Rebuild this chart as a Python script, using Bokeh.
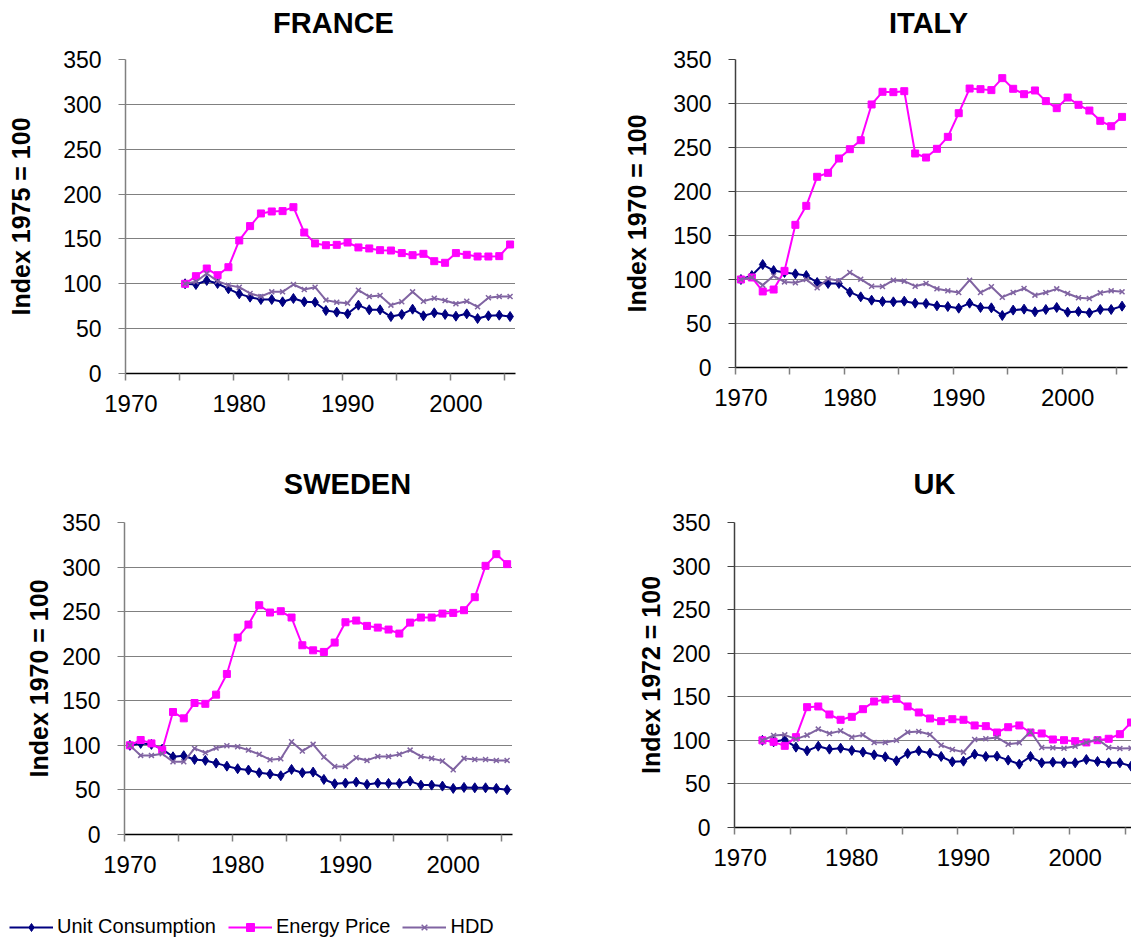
from bokeh.plotting import figure
from bokeh.models import Range1d, FixedTicker, Label, Legend, LegendItem
from bokeh.layouts import column, row
from bokeh.embed import file_html
from bokeh.resources import INLINE

FONT = "Liberation Sans"
UNIT_COLOR = "#000080"
PRICE_COLOR = "#FF00FF"
HDD_COLOR = "#8064A2"

series_names = ["Unit Consumption", "Energy Price", "HDD"]
tick_labels = [1970, 1980, 1990, 2000]
tick_marks = [1969.5, 1974.5, 1979.5, 1984.5, 1989.5, 1994.5, 1999.5, 2004.5]
y_ticks = [0, 50, 100, 150, 200, 250, 300, 350]

# FRANCE (index 1975 = 100)
fr_years = list(range(1975, 2006))
fr_unit = [100, 99.2, 103.7, 100.3, 94.4, 88.8, 85.1, 82.5, 82.5, 79.9, 83.6, 79.9, 79.5, 70.2, 68.4,
           66.5, 76.2, 71.0, 71.0, 63.5, 65.8, 71.7, 64.3, 67.6, 65.8, 63.9, 66.5, 61.3, 64.3, 65.0, 63.5]
fr_price = [100, 108.5, 117.0, 109.6, 118.5, 148.3, 164.3, 178.4, 180.6, 181.0, 185.4, 157.2, 145.0, 143.0, 143.4,
            146.0, 140.5, 139.4, 137.5, 137.1, 134.2, 131.9, 133.4, 125.2, 123.4, 134.2, 132.3, 130.4, 130.4, 130.8, 143.8]
fr_hdd = [100, 102.2, 111.5, 102.9, 98.5, 96.2, 89.2, 85.8, 91.0, 91.0, 99.2, 93.6, 96.2, 81.8, 79.5,
          78.4, 92.9, 85.8, 87.0, 76.2, 79.9, 91.0, 80.6, 84.0, 81.4, 77.7, 80.6, 74.3, 84.4, 85.8, 85.8]

# ITALY (index 1970 = 100)
it_years = list(range(1970, 2006))
it_unit = [100, 104.5, 117.0, 110.2, 108.0, 106.4, 104.5, 96.6, 95.5, 95.5, 85.6, 80.3, 76.5, 75.0, 74.6, 75.4,
           73.1, 72.7, 70.1, 69.3, 67.4, 73.1, 68.2, 67.8, 59.1, 65.2, 66.3, 63.3, 65.9, 68.2, 62.9, 63.6,
           62.1, 65.9, 65.9, 69.7]
it_price = [100, 102.3, 86.4, 88.6, 109.8, 162.1, 183.7, 216.7, 221.2, 237.5, 248.1, 258.3, 298.9, 313.3, 312.9,
            314.0, 243.2, 238.6, 248.5, 262.1, 289.0, 317.0, 316.3, 315.2, 328.8, 316.7, 310.6, 314.8, 302.7,
            294.7, 306.8, 298.5, 292.0, 280.3, 274.2, 284.8]
it_hdd = [100, 102.3, 93.6, 104.2, 97.3, 96.2, 100.0, 90.5, 100.8, 98.5, 108.0, 100.4, 92.4, 92.0, 99.2, 98.1,
          92.4, 95.5, 89.4, 87.1, 85.2, 99.2, 85.2, 91.7, 79.9, 85.2, 89.8, 82.2, 85.2, 89.4, 84.1, 79.2,
          78.4, 84.8, 87.1, 86.0]

# SWEDEN (index 1970 = 100)
se_years = list(range(1970, 2006))
se_unit = [100, 102.2, 101.1, 95.8, 87.2, 88.4, 84.2, 83.1, 80.1, 76.7, 73.8, 72.3, 69.3, 67.8, 65.9, 73.0,
           69.3, 70.0, 61.8, 56.9, 57.7, 58.8, 56.2, 57.7, 57.3, 57.3, 59.9, 55.4, 55.4, 54.3, 51.7, 52.8,
           52.4, 52.4, 51.7, 50.2]
se_price = [100, 106.0, 102.2, 94.7, 137.4, 130.3, 147.5, 146.6, 156.9, 180.1, 220.9, 235.5, 257.2, 249.0, 250.5,
            243.4, 212.3, 206.6, 204.8, 215.3, 238.1, 240.0, 234.0, 232.1, 229.9, 225.4, 237.7, 243.4, 243.4,
            247.8, 248.6, 251.6, 266.2, 301.4, 314.5, 303.3]
se_hdd = [100, 88.7, 88.7, 90.6, 81.6, 81.6, 96.6, 91.7, 97.0, 99.6, 98.5, 94.7, 89.9, 83.9, 85.0, 104.1,
          93.6, 101.1, 86.9, 76.4, 76.4, 86.1, 83.1, 87.6, 87.6, 89.9, 94.7, 87.6, 85.4, 82.4, 72.6, 85.4,
          84.2, 84.2, 83.1, 83.1]

# UK (index 1972 = 100)
uk_years = list(range(1972, 2006))
uk_unit = [100, 98.3, 100.6, 92.2, 88.0, 93.3, 89.9, 91.0, 88.4, 86.5, 83.4, 81.1, 76.5, 84.9, 88.0, 85.3,
           81.5, 75.4, 76.1, 84.2, 81.5, 81.9, 77.3, 72.7, 81.5, 74.2, 75.0, 74.2, 74.2, 78.0, 75.7, 74.2,
           74.2, 70.4]
uk_price = [100, 98.3, 93.7, 103.7, 138.1, 138.9, 129.7, 123.6, 127.0, 135.8, 144.6, 146.9, 147.7, 138.9, 132.0,
            125.1, 122.0, 124.3, 123.6, 117.1, 116.3, 109.0, 115.1, 117.1, 109.0, 107.9, 101.0, 100.2, 99.1,
            97.6, 100.2, 101.8, 107.1, 120.5]
uk_hdd = [100, 105.6, 106.3, 101.4, 106.0, 112.9, 107.9, 110.9, 103.7, 106.3, 97.6, 97.6, 100.2, 109.4, 110.2,
          106.7, 94.5, 89.5, 86.5, 101.0, 101.8, 103.3, 95.6, 97.2, 110.2, 91.8, 91.4, 91.0, 93.3, 97.6,
          101.4, 91.8, 90.7, 91.0]


def make_panel(ylabel, years, unit, price, hdd, bl, bt, br, bb, fw, fh, xend, ylab_standoff, yaxis_color):
    p = figure(frame_width=fw, frame_height=fh, output_backend="svg", toolbar_location=None, title=None,
               x_range=Range1d(1969.5, xend), y_range=Range1d(0, 350),
               min_border_left=bl, min_border_top=bt, min_border_right=br, min_border_bottom=bb)
    p.outline_line_color = None

    xa = p.xaxis[0]
    xa.ticker = FixedTicker(ticks=tick_labels, minor_ticks=tick_marks)
    xa.major_tick_out = 0
    xa.major_tick_in = 0
    xa.minor_tick_out = 7
    xa.minor_tick_in = 0
    xa.minor_tick_line_color = "#808080"
    xa.minor_tick_line_width = 1.5
    xa.axis_line_color = "black"
    xa.axis_line_width = 1.5
    xa.major_label_text_font = FONT
    xa.major_label_text_font_size = "24px"
    xa.major_label_text_color = "black"
    xa.major_label_standoff = 14

    ya = p.yaxis[0]
    ya.ticker = FixedTicker(ticks=y_ticks)
    ya.major_tick_out = 7
    ya.major_tick_in = 0
    ya.minor_tick_out = 0
    ya.minor_tick_in = 0
    ya.major_tick_line_color = yaxis_color
    ya.axis_line_color = yaxis_color
    ya.axis_line_width = 1.5
    ya.major_label_text_font = FONT
    ya.major_label_text_font_size = "23px"
    ya.major_label_text_color = "black"
    ya.major_label_standoff = 17
    ya.axis_label = ylabel
    ya.axis_label_text_font = FONT
    ya.axis_label_text_font_size = "25px"
    ya.axis_label_text_font_style = "bold"
    ya.axis_label_text_color = "black"
    ya.axis_label_standoff = ylab_standoff

    p.xgrid.visible = False
    p.ygrid.ticker = FixedTicker(ticks=y_ticks[1:])
    p.ygrid.grid_line_color = "black"
    p.ygrid.grid_line_dash = "1 1"
    p.ygrid.grid_line_width = 1

    p.line(years, unit, color=UNIT_COLOR, line_width=2)
    p.scatter(years, unit, marker="diamond", size=10, color=UNIT_COLOR)
    p.line(years, price, color=PRICE_COLOR, line_width=2)
    p.scatter(years, price, marker="square", size=7, color=PRICE_COLOR)
    p.line(years, hdd, color=HDD_COLOR, line_width=2)
    p.scatter(years, hdd, marker="x", size=7, color=HDD_COLOR, line_width=1.5)
    return p


def make_strip(width, height, titles):
    s = figure(width=width, height=height, output_backend="svg", toolbar_location=None, title=None,
               x_axis_location=None, y_axis_location=None, min_border=0,
               x_range=Range1d(0, 1), y_range=Range1d(0, 1))
    s.outline_line_color = None
    s.grid.visible = False
    for text, x, y in titles:
        s.add_layout(Label(x=x, y=y, x_units="screen", y_units="screen", text=text,
                           text_font=FONT, text_font_size="29px", text_font_style="bold",
                           text_color="black", text_align="center", text_baseline="middle"))
    return s


top_strip = make_strip(1131, 48, [("FRANCE", 333, 26), ("ITALY", 928, 26)])
fr = make_panel("Index 1975 = 100", fr_years, fr_unit, fr_price, fr_hdd,
                125, 10, 58, 86, 390, 314, 2005.5, 25, "#808080")
it = make_panel("Index 1970 = 100", it_years, it_unit, it_price, it_hdd,
                162, 11, 4, 91, 392, 308, 2005.5, 19, "#404040")
bottom_strip = make_strip(1131, 40, [("SWEDEN", 347, 15), ("UK", 934, 15)])
se = make_panel("Index 1970 = 100", se_years, se_unit, se_price, se_hdd,
                124, 20, 61, 68, 388, 312, 2005.5, 6, "#808080")
uk = make_panel("Index 1972 = 100", uk_years, uk_unit, uk_price, uk_hdd,
                161, 24, 0, 71, 397, 305, 1969.5 + 397 / 11.17, 4, "#404040")

lg = figure(width=1131, height=46, output_backend="svg", toolbar_location=None, title=None,
            x_axis_location=None, y_axis_location=None, min_border=0,
            x_range=Range1d(0, 1), y_range=Range1d(0, 1))
lg.outline_line_color = None
lg.grid.visible = False
r1 = lg.line([5, 6], [5, 6], color=UNIT_COLOR, line_width=2)
s1 = lg.scatter([5], [5], marker="diamond", size=8, color=UNIT_COLOR)
r2 = lg.line([5, 6], [5, 6], color=PRICE_COLOR, line_width=2)
s2 = lg.scatter([5], [5], marker="square", size=7, color=PRICE_COLOR)
r3 = lg.line([5, 6], [5, 6], color=HDD_COLOR, line_width=2)
s3 = lg.scatter([5], [5], marker="x", size=6, color=HDD_COLOR, line_width=1.5)
legend = Legend(items=[LegendItem(label=series_names[0], renderers=[r1, s1]),
                       LegendItem(label=series_names[1], renderers=[r2, s2]),
                       LegendItem(label=series_names[2], renderers=[r3, s3])],
                orientation="horizontal", location=(9, 6), padding=0, margin=0, spacing=12,
                glyph_width=44, glyph_height=20, label_height=20, label_standoff=4,
                label_text_font=FONT, label_text_font_size="20px", label_text_color="black",
                border_line_color=None, background_fill_alpha=0)
lg.add_layout(legend)

layout = column(top_strip, row(fr, it), bottom_strip, row(se, uk), lg)
open("out.html", "w").write(file_html(layout, INLINE))
